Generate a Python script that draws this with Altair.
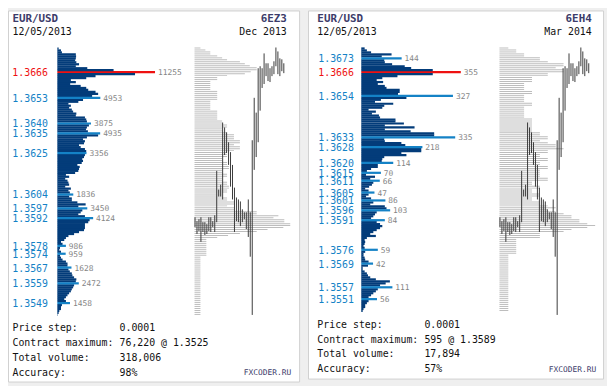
import altair as alt
import pandas as pd

# ---------------- data ----------------
TOP_PRICE = 1.3678   # first histogram row (price levels step 0.0001 downward)
TICK = 0.0001

# Dec 2013 (6EZ3) volume per price level, from 1.3678 downward
left_volume = [
    150, 420, 530, 2130, 2160, 2130, 2050, 2190, 2500, 2130, 3450, 6480,
    11255, 8950, 4400, 3330, 1560, 2130, 1480, 2690, 3330, 3560,
    4400, 4700, 4010, 4953, 2960, 2420, 1280, 1560, 1360, 1670,
    1820, 2190, 2130, 3180, 3330, 3410, 3875, 3640, 3410, 3300,
    3520, 4935, 4700, 3410, 2960, 3180, 3070, 2500, 2690, 3180,
    3330, 3356, 3180, 3070, 2880, 2960, 2810, 2310, 2580, 2500,
    2420, 2050, 990, 1360, 910, 1170, 1280, 1360, 910, 1560,
    1280, 1440, 1836, 1360, 1670, 1670, 2310, 3260, 2420, 3450,
    2880, 2690, 2420, 3180, 4124, 3720, 3560, 3180, 3180, 3180,
    3070, 2500, 1930, 1280, 990, 800, 420, 600, 986, 310,
    230, 420, 959, 310, 420, 600, 990, 1170, 1170, 1628,
    1280, 1440, 1670, 1740, 1930, 2190, 2130, 2472, 1930, 1820,
    1670, 1560, 1360, 1170, 990, 800, 990, 1458, 530, 420,
    420, 230, 150, 40,
]
left_levels = [1.3653, 1.3640, 1.3635, 1.3625, 1.3604, 1.3597, 1.3592,
               1.3578, 1.3574, 1.3567, 1.3559, 1.3549]
left_poc = 1.3666

# Mar 2014 (6EH4) volume per price level, from 1.3678 downward
right_volume = [
    12, 20, 35, 108, 73, 144, 82, 84, 110, 155, 178, 255,
    355, 255, 129, 75, 55, 78, 59, 84, 90, 137,
    137, 131, 327, 161, 70, 49, 114, 82, 75, 26,
    52, 38, 63, 67, 122, 122, 152, 84, 190, 84,
    176, 260, 260, 335, 82, 84, 143, 157, 218, 214,
    214, 143, 161, 82, 75, 73, 114, 59, 59, 35,
    20, 70, 17, 49, 32, 66, 43, 38, 28, 14,
    26, 47, 26, 17, 35, 86, 43, 32, 84, 90,
    103, 55, 49, 43, 35, 84, 55, 67, 75, 67,
    55, 43, 32, 52, 20, 12, 14, 12, 8, 12,
    59, 14, 8, 8, 12, 14, 26, 42, 24, 5,
    5, 12, 20, 24, 32, 52, 102, 87, 67, 111,
    59, 52, 43, 35, 26, 56, 26, 20, 14, 14,
    8, 5,
]
right_levels = [1.3673, 1.3654, 1.3633, 1.3628, 1.3620, 1.3615, 1.3611,
                1.3605, 1.3601, 1.3596, 1.3591, 1.3576, 1.3569, 1.3557, 1.3551]
right_poc = 1.3666

# spot profile (grey) per price level, from 1.3678 downward
left_profile = [
    6, 11, 16, 16, 23, 28, 33, 46, 51, 56, 63, 63,
    57, 51, 33, 23, 23, 16, 16, 16, 16, 16,
    23, 23, 23, 23, 23, 16, 16, 16, 16, 16,
    23, 23, 23, 23, 23, 28, 28, 33, 33, 28,
    28, 33, 40, 40, 40, 46, 46, 40, 46, 46,
    40, 33, 33, 33, 28, 28, 33, 33, 35, 35,
    28, 28, 33, 33, 28, 28, 33, 33, 35, 35,
    33, 33, 28, 28, 33, 33, 40, 40, 33, 40,
    40, 63, 63, 85, 80, 91, 91, 97, 97, 90,
    74, 63, 46, 34, 23, 12, 12, 12, 12, 12,
    12, 12, 12, 12, 6, 6, 6, 6, 6, 6,
    6, 6, 6, 6, 6, 6, 6, 6, 6, 6,
    6, 6, 6, 6, 6, 6, 6, 6, 6, 6,
    6, 6, 6, 6,
]
right_profile = [
    9, 17, 17, 25, 25, 41, 41, 49, 65, 65, 57, 65,
    65, 49, 49, 33, 33, 33, 25, 25, 25, 25,
    33, 33, 25, 25, 25, 25, 33, 33, 25, 25,
    25, 25, 25, 25, 33, 33, 33, 33, 33, 33,
    33, 41, 41, 49, 49, 41, 49, 57, 57, 65,
    49, 49, 41, 41, 49, 49, 41, 41, 49, 49,
    41, 41, 41, 41, 49, 49, 33, 33, 41, 41,
    33, 33, 41, 41, 33, 33, 41, 41, 49, 57,
    49, 57, 65, 73, 73, 81, 81, 89, 97, 89,
    73, 65, 41, 41, 41, 17, 17, 17, 17, 17,
    17, 17, 17, 9, 9, 9, 9, 9, 9, 9,
    9, 9, 9, 9, 9, 9, 9, 9, 9, 9,
    9, 9, 9, 9, 9, 9, 9, 9, 9, 9,
    9, 9,
]

# spot price bars (high / low)
bar_high = [1.35925, 1.35905, 1.35915, 1.35925, 1.35900, 1.35900, 1.35890, 1.35925,
            1.35925, 1.35905, 1.35935, 1.36160, 1.36065, 1.36090, 1.36405, 1.36380,
            1.36355, 1.36305, 1.36255, 1.36190, 1.36075, 1.36025, 1.36015, 1.36005,
            1.35965, 1.35950, 1.35950, 1.36015, 1.35950, 1.36315, 1.36530, 1.36455,
            1.36680, 1.36690, 1.36680, 1.36755, 1.36705, 1.36705, 1.36680, 1.36690,
            1.36715, 1.36785, 1.36765, 1.36730, 1.36725, 1.36705]
bar_low = [1.35875, 1.35840, 1.35855, 1.35800, 1.35850, 1.35835, 1.35840, 1.35855,
           1.35850, 1.35875, 1.35850, 1.35900, 1.36030, 1.36030, 1.36015, 1.36240,
           1.36250, 1.36190, 1.36080, 1.36015, 1.35850, 1.35905, 1.35900, 1.35880,
           1.35900, 1.35915, 1.35865, 1.35825, 1.35725, 1.35430, 1.36165, 1.36230,
           1.36305, 1.36465, 1.36580, 1.36600, 1.36640, 1.36615, 1.36610, 1.36640,
           1.36650, 1.36690, 1.36650, 1.36640, 1.36665, 1.36655]

left_info = dict(sym="EUR/USD", date="12/05/2013", code="6EZ3", month="Dec 2013",
                 step="0.0001", cmax="76,220 @ 1.3525", total="318,006", acc="98%")
right_info = dict(sym="EUR/USD", date="12/05/2013", code="6EH4", month="Mar 2014",
                  step="0.0001", cmax="595 @ 1.3589", total="17,894", acc="57%")

# ---------------- styling ----------------
MONO = "DejaVu Sans Mono"
NAVY = "#033c7a"
LEVEL = "#1482c6"
RED = "#ee1111"
GREY_TXT = "#858585"
TITLE = "#3c3c6a"

YS = alt.Scale(domain=[1.3530, 1.3700], range=[334.5, -5.5], zero=False, nice=False, padding=0)


def hist_df(vols, levels, poc):
    rows = []
    for i, v in enumerate(vols):
        p = round(TOP_PRICE - i * TICK, 4)
        kind = "poc" if abs(p - poc) < 1e-9 else ("level" if any(abs(p - l) < 1e-9 for l in levels) else "normal")
        rows.append({"price": p, "top": p + TICK * 0.56, "bot": p - TICK * 0.56, "zero": 0,
                     "vol": v, "kind": kind, "plabel": f"{p:.4f}"})
    return pd.DataFrame(rows)


def prof_df(vals):
    ps = [round(TOP_PRICE - i * TICK, 4) for i in range(len(vals))]
    return pd.DataFrame({"price": ps, "top": [p + TICK * 0.5 for p in ps], "zero": 0, "prof": vals})


bars_df = pd.DataFrame({"idx": list(range(len(bar_high))), "hi": bar_high, "lo": bar_low})
one = pd.DataFrame({"a": [0]})


def txt(s, x, y, size=10, color="#111111", weight="normal", align="left"):
    return alt.Chart(one).mark_text(text=s, align=align, baseline="alphabetic", fontSize=size,
                                    font=MONO, fontWeight=weight, color=color).encode(
        x=alt.value(x), y=alt.value(y))


def panel(info, vols, levels, poc, prof, ox, hist_x0, hist_max, hist_px, prof_x0, cand_x0,
          lab_x, stats_y0, panel_rect, wm_x):
    layers = []
    x0, x1, y0, y1 = panel_rect
    layers.append(alt.Chart(one).mark_rect(fill="white", stroke="#d0d0d0", strokeWidth=1).encode(
        x=alt.value(x0), x2=alt.value(x1), y=alt.value(y0), y2=alt.value(y1)))

    pdf = prof_df(prof)
    ps = alt.Scale(domain=[0, 100], range=[prof_x0, prof_x0 + 100])
    layers.append(alt.Chart(pdf).mark_rect(color="#bdbdbd").encode(
        x=alt.X("zero:Q", scale=ps, axis=None), x2="prof:Q",
        y=alt.Y("top:Q", scale=YS, axis=None), y2="price:Q"))

    layers.append(alt.Chart(bars_df).mark_rule(color="#3a3a3a", strokeWidth=1).encode(
        x=alt.X("idx:Q", scale=alt.Scale(domain=[0, 45], range=[cand_x0, cand_x0 + 90]), axis=None),
        y=alt.Y("hi:Q", scale=YS, axis=None), y2="lo:Q"))

    hdf = hist_df(vols, levels, poc)
    xs = alt.Scale(domain=[0, hist_max], range=[hist_x0, hist_x0 + hist_px], nice=False)
    col = alt.Color("kind:N", scale=alt.Scale(domain=["normal", "level", "poc"], range=[NAVY, LEVEL, RED]), legend=None)
    layers.append(alt.Chart(hdf).mark_rect().encode(
        x=alt.X("zero:Q", scale=xs, axis=None), x2="vol:Q",
        y=alt.Y("top:Q", scale=YS, axis=None), y2="bot:Q", color=col,
        order=alt.Order("kind:N", sort="descending")))

    lab = hdf[hdf["kind"] != "normal"]
    layers.append(alt.Chart(lab).mark_text(align="right", baseline="middle", fontSize=10, font=MONO, dy=1).encode(
        x=alt.value(lab_x), y=alt.Y("price:Q", scale=YS, axis=None),
        text="plabel:N",
        color=alt.Color("kind:N", scale=alt.Scale(domain=["level", "poc"], range=[LEVEL, RED]), legend=None)))
    layers.append(alt.Chart(lab).mark_text(align="left", baseline="middle", fontSize=8, font=MONO, dx=3, dy=1,
                                           color=GREY_TXT).encode(
        x=alt.X("vol:Q", scale=xs, axis=None), y=alt.Y("price:Q", scale=YS, axis=None), text="vol:Q"))

    layers.append(txt(info["sym"], ox, 11.5, size=11, color=TITLE, weight="bold"))
    layers.append(txt(info["date"], ox, 25, size=10))
    layers.append(txt(info["code"], ox + 278, 11.5, size=11, color=TITLE, weight="bold", align="right"))
    layers.append(txt(info["month"], ox + 278, 25, size=10, align="right"))

    names = ["Price step:", "Contract maximum:", "Total volume:", "Accuracy:"]
    vals = [info["step"], info["cmax"], info["total"], info["acc"]]
    for j, (n, v) in enumerate(zip(names, vals)):
        yy = stats_y0 + 15 * j
        layers.append(txt(n, ox, yy, size=10))
        layers.append(txt(v, ox + 108.5, yy, size=10))
    layers.append(txt("FXCODER.RU", wm_x, stats_y0 + 44.5, size=8, color=TITLE, align="right"))
    return layers


left = panel(left_info, left_volume, left_levels, left_poc, left_profile,
             ox=4.5, hist_x0=50, hist_max=11370, hist_px=100, prof_x0=189, cand_x0=189.5,
             lab_x=40.5, stats_y0=325, panel_rect=(0.5, 295.5, 0.5, 376.5), wm_x=287)
right = panel(right_info, right_volume, right_levels, right_poc, right_profile,
              ox=313.5, hist_x0=358, hist_max=352, hist_px=100, prof_x0=498, cand_x0=498.5,
              lab_x=350.5, stats_y0=321.5, panel_rect=(304.5, 603.5, 0.5, 373.5), wm_x=596)

chart = alt.layer(*(left + right)).resolve_scale(
    x="independent", y="independent", color="independent"
).properties(
    width=607, height=378, padding=0, autosize="none", background="#efefef"
).configure_view(stroke=None)

chart.save("out.html", embed_options={"renderer": "svg", "actions": False})
